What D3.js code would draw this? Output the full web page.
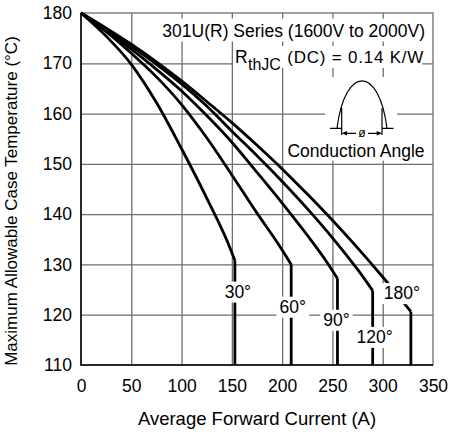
<!DOCTYPE html>
<html>
<head>
<meta charset="utf-8">
<script src="https://cdn.jsdelivr.net/npm/d3@7"></script>
<style>
  body { margin: 0; background: #fff; }
  svg text { font-family: "Liberation Sans", Arial, sans-serif; fill: #000; }
</style>
</head>
<body>
<div id="app"></div>
<script>
// values: [average forward current (A), max case temp (°C)]
const angles = ["30°", "60°", "90°", "120°", "180°"];
const curve30 = [[0,180],[25,175.4],[50,169.8],[75,162.2],[100,153.0],[125,143.2],[145,134.8],[153,130.8]];
const curve60 = [[0,180],[25,176.3],[50,172.0],[75,167.3],[100,161.8],[125,155.2],[150,147.8],[175,140.2],[195,134.4],[209,130.0]];
const curve90 = [[0,180],[25,176.5],[50,172.8],[75,168.8],[100,164.5],[125,159.6],[150,154.3],[175,148.3],[200,142.2],[225,135.8],[245,130.3],[255,127.2]];
const curve120 = [[0,180],[25,176.8],[50,173.4],[75,169.8],[100,165.9],[125,161.5],[150,156.5],[175,151.6],[200,146.5],[225,141.1],[250,135.3],[275,129.0],[290,124.8]];
const curve180 = [[0,180],[25,177.0],[50,173.8],[75,170.3],[100,166.5],[125,162.4],[150,158.2],[175,153.7],[200,149.0],[225,144.0],[250,138.8],[275,133.3],[300,127.5],[318,123.1],[328,120.6]];
const curves = [curve30, curve60, curve90, curve120, curve180];

const xTicks = [0, 50, 100, 150, 200, 250, 300, 350];
const yTicks = [110, 120, 130, 140, 150, 160, 170, 180];

// sizing
const width = 451;
const height = 434;
const margin = {left: 81, right: 18, top: 13, bottom: 69};
const w = width - margin.left - margin.right;
const h = height - margin.top - margin.bottom;
const gridColor = "#6e6e6e";

const root = d3.select("#app")
  .append("svg")
    .attr("width", width)
    .attr("height", height);

const svg = root.append("g")
    .attr("transform", `translate(${margin.left},${margin.top})`);

const x = d3.scaleLinear().domain([0, 350]).range([0, w]);
const y = d3.scaleLinear().domain([110, 180]).range([h, 0]);

// grid
svg.append("g")
    .attr("transform", `translate(0,${h})`)
    .call(d3.axisBottom(x).tickValues(xTicks.slice(1, -1)).tickSize(-h).tickFormat(""))
    .call(g => g.select(".domain").remove())
    .call(g => g.selectAll("line").attr("stroke", gridColor).attr("stroke-width", 1.3));

svg.append("g")
    .call(d3.axisLeft(y).tickValues(yTicks.slice(1, -1)).tickSize(-w).tickFormat(""))
    .call(g => g.select(".domain").remove())
    .call(g => g.selectAll("line").attr("stroke", gridColor).attr("stroke-width", 1.3));

svg.append("rect")
    .attr("width", w)
    .attr("height", h)
    .attr("fill", "none")
    .attr("stroke", gridColor)
    .attr("stroke-width", 1.3);

// white box behind a text element
function backing(sel, padX, padTop, padBottom) {
  const node = sel.node();
  const b = node.getBBox();
  d3.select(node.parentNode).insert("rect", () => node)
      .attr("x", b.x - padX)
      .attr("y", b.y - padTop)
      .attr("width", b.width + 2 * padX)
      .attr("height", b.height + padTop + padBottom)
      .attr("fill", "#fff");
}

// inset notes, top right
const note = svg.append("g");
const line1 = note.append("text")
    .attr("x", 425 - margin.left)
    .attr("y", 36.5 - margin.top)
    .attr("text-anchor", "end")
    .style("font-size", "17.5px")
    .text("301U(R) Series (1600V to 2000V)");
backing(line1, 3, 2, 1);

const line2 = note.append("g");
line2.append("rect")
    .attr("x", 233 - margin.left).attr("y", 46 - margin.top)
    .attr("width", 189).attr("height", 22)
    .attr("fill", "#fff");
line2.append("text")
    .attr("x", 235 - margin.left)
    .attr("y", 63.3 - margin.top)
    .style("font-size", "17.5px")
    .text("R");
line2.append("text")
    .attr("x", 248 - margin.left)
    .attr("y", 69.5 - margin.top)
    .style("font-size", "16px")
    .text("thJC");
line2.append("text")
    .attr("x", 423.3 - margin.left)
    .attr("y", 63.3 - margin.top)
    .attr("text-anchor", "end")
    .attr("textLength", 136)
    .attr("lengthAdjust", "spacing")
    .style("font-size", "17px")
    .text("(DC) = 0.14 K/W");

// conduction angle icon
const icon = note.append("g")
    .attr("transform", `translate(${362 - margin.left},${105 - margin.top})`);
icon.append("rect")
    .attr("x", -37).attr("y", -28)
    .attr("width", 72).attr("height", 64)
    .attr("fill", "#fff");
icon.append("path")
    .attr("d", "M-25,23.3 C-17,-40 17,-40 25,23.3")
    .attr("fill", "none").attr("stroke", "#000").attr("stroke-width", 1.2);
icon.append("path")
    .attr("d", "M-32,23.3 H-20.3 M20,23.3 H31.5 M-20.3,3 V30 M20,3 V30 M-6,28.3 H-17 M6,28.3 H17")
    .attr("fill", "none").attr("stroke", "#000").attr("stroke-width", 1.2);
icon.append("path")
    .attr("d", "M-20.3,28.3 L-15,26 L-15,30.6 Z M20,28.3 L14.7,26 L14.7,30.6 Z")
    .attr("fill", "#000");
icon.append("text")
    .attr("x", 0).attr("y", 32)
    .attr("text-anchor", "middle")
    .style("font-size", "12px")
    .text("ø");

const angleText = note.append("text")
    .attr("x", 356 - margin.left)
    .attr("y", 156.7 - margin.top)
    .attr("text-anchor", "middle")
    .style("font-size", "17.5px")
    .text("Conduction Angle");
backing(angleText, 2, 0, 0);

// curves, each ends with a vertical drop to the bottom
const curveLine = d3.line()
    .x(d => x(d[0]))
    .y(d => y(d[1]))
    .curve(d3.curveMonotoneX);

const plain = d3.line()
    .x(d => x(d[0]))
    .y(d => y(d[1]));

const curveG = svg.append("g");
curves.forEach(c => {
  const knee = c[c.length - 1];
  curveG.append("path")
      .attr("d", curveLine(c))
      .attr("fill", "none")
      .attr("stroke", "#000")
      .attr("stroke-width", 2.8);
  curveG.append("path")
      .attr("d", plain([knee, [knee[0], 110]]))
      .attr("fill", "none")
      .attr("stroke", "#000")
      .attr("stroke-width", 2.8);
});

// angle labels (placed on the lines, with white behind)
const labelAt = [[156, 123.4], [210.5, 120.4], [254, 117.8], [292, 114.4], [319, 123.1]];
const labelG = svg.append("g");
angles.forEach((a, i) => {
  const t = labelG.append("text")
      .attr("x", x(labelAt[i][0]))
      .attr("y", y(labelAt[i][1]))
      .attr("text-anchor", "middle")
      .style("font-size", "17.5px")
      .text(a);
  backing(t, 3, 0, 1);
});

// axes labels
svg.append("g")
    .attr("transform", `translate(0,${h})`)
    .call(d3.axisBottom(x).tickValues(xTicks).tickSize(0).tickPadding(14.6))
    .call(g => g.select(".domain").remove())
    .call(g => g.selectAll("text").style("font-size", "17.5px").attr("fill", "#000"));

svg.append("g")
    .call(d3.axisLeft(y).tickValues(yTicks).tickSize(0).tickPadding(9))
    .call(g => g.select(".domain").remove())
    .call(g => g.selectAll("text").style("font-size", "17.5px").attr("fill", "#000"));

// left and bottom axis lines
svg.append("path")
    .attr("d", `M0,0 V${h} H${w}`)
    .attr("fill", "none")
    .attr("stroke", "#000")
    .attr("stroke-width", 1.5);

// titles
root.append("text")
    .attr("x", margin.left + w / 2)
    .attr("y", 425)
    .attr("text-anchor", "middle")
    .style("font-size", "18.5px")
    .text("Average Forward Current (A)");

root.append("text")
    .attr("transform", "translate(17,201) rotate(-90)")
    .attr("text-anchor", "middle")
    .style("font-size", "17px")
    .text("Maximum Allowable Case Temperature (°C)");
</script>
</body>
</html>
